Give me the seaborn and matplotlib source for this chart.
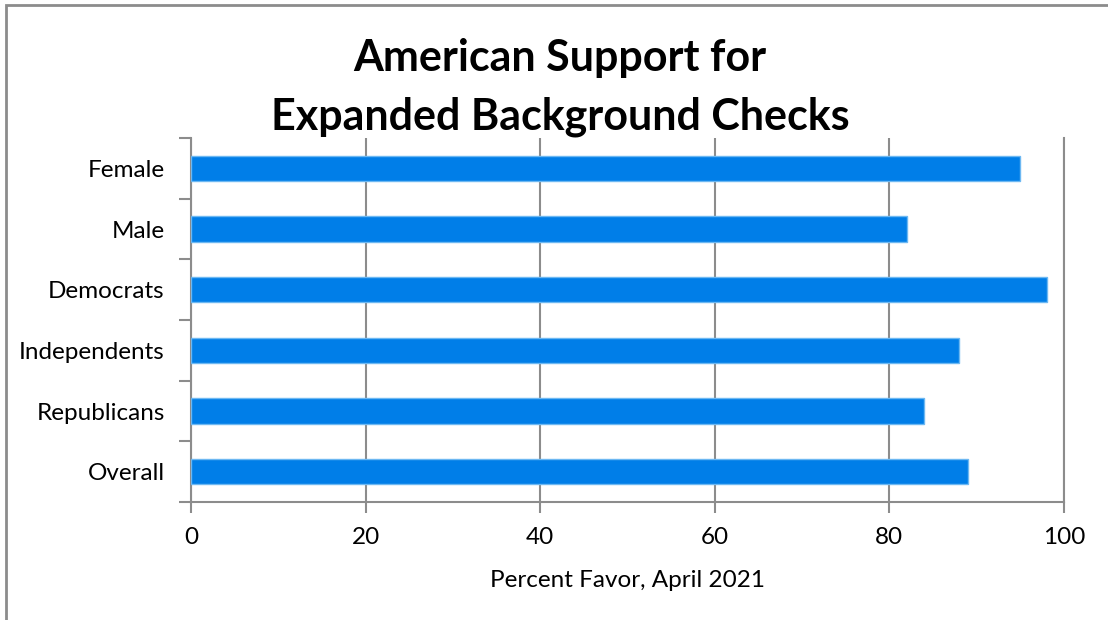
import matplotlib
matplotlib.use("Agg")
import matplotlib.pyplot as plt
from matplotlib.patches import Rectangle
import seaborn as sns
import numpy as np

# Data
groups = ["Female", "Male", "Democrats", "Independents", "Republicans", "Overall"]
favor = [95, 82, 98, 88, 84, 89]
xticks = [0, 20, 40, 60, 80, 100]

sns.set_style("white")
plt.rcParams["font.family"] = ["Lato", "DejaVu Sans"]
plt.rcParams["text.color"] = "black"
plt.rcParams["axes.labelcolor"] = "black"
plt.rcParams["xtick.color"] = "black"
plt.rcParams["ytick.color"] = "black"

grey = "#8c8c8c"
blue = "#007EE8"

fig = plt.figure(figsize=(11.08, 6.2), dpi=100)
ax = fig.add_axes([0.1724, 0.1903, 0.9603 - 0.1724, 0.7774 - 0.1903])

sns.barplot(x=favor, y=groups, orient="h", color=blue, width=0.42,
            edgecolor="#6db8f2", linewidth=1, saturation=1, ax=ax, zorder=3)

ax.set_xlim(0, 100)
ax.set_ylim(len(groups) - 0.5, -0.5)
ax.set_xticks(xticks)
ax.set_xticklabels([str(t) for t in xticks], fontsize=17.5)
ax.tick_params(axis="x", bottom=True, direction="out", length=8, width=1.5,
               color=grey, pad=10)
ax.tick_params(axis="y", which="major", left=True, length=0, pad=19, labelsize=17.5)
ax.set_yticks(np.arange(-0.5, len(groups), 1), minor=True)
ax.tick_params(axis="y", which="minor", left=True, direction="out", length=9,
               width=1.5, color=grey)

ax.xaxis.grid(True, color=grey, linewidth=1.5, zorder=0)
ax.yaxis.grid(False)
ax.set_axisbelow(True)

for side in ["left", "bottom", "right"]:
    ax.spines[side].set_visible(True)
    ax.spines[side].set_color(grey)
    ax.spines[side].set_linewidth(1.5)
ax.spines["top"].set_visible(False)

ax.set_ylabel("")
ax.set_xlabel("Percent Favor, April 2021", fontsize=17.5, labelpad=16)

fig.text(0.5054, 0.907, "American Support for", ha="center", va="center",
         fontsize=31, fontweight="bold")
fig.text(0.5054, 0.812, "Expanded Background Checks", ha="center", va="center",
         fontsize=31, fontweight="bold")

# outer chart frame
fig.patches.append(Rectangle((6 / 1108, -0.1), 1.2, 1.1 - 5 / 620,
                             transform=fig.transFigure, fill=False,
                             edgecolor=grey, linewidth=2))

fig.savefig("out.png", dpi=100)
